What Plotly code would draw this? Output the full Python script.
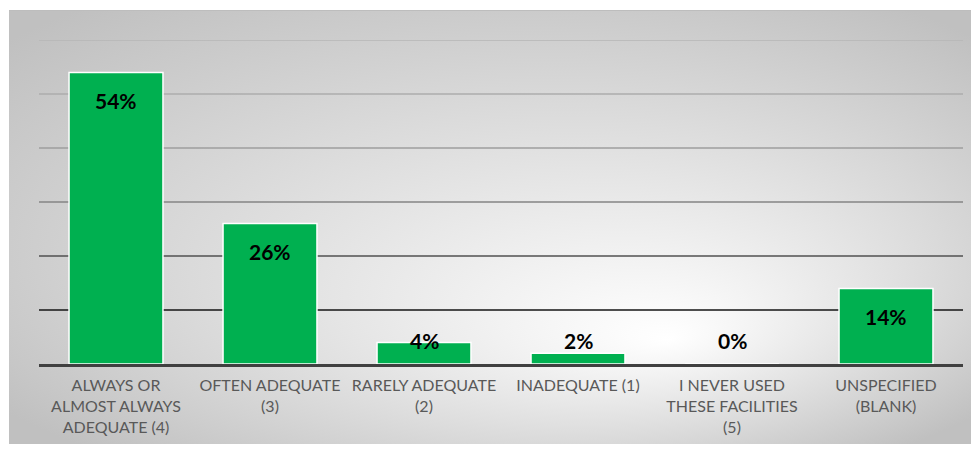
import base64
import plotly.graph_objects as go

categories = [
    "ALWAYS OR<br>ALMOST ALWAYS<br>ADEQUATE (4)",
    "OFTEN ADEQUATE<br>(3)",
    "RARELY ADEQUATE<br>(2)",
    "INADEQUATE (1)",
    "I NEVER USED<br>THESE FACILITIES<br>(5)",
    "UNSPECIFIED<br>(BLANK)",
]
values = [54, 26, 4, 2, 0, 14]
labels = ["54%", "26%", "4%", "2%", "0%", "14%"]
grid_vals = [10, 20, 30, 40, 50, 60]
grid_colors = ["#141414", "#505050", "#848484", "#9e9e9e", "#acacac", "#b6b6b6"]

# radial grey->white background like the excel chart area
svg = """<svg xmlns='http://www.w3.org/2000/svg' width='970' height='434' preserveAspectRatio='none'>
<defs><radialGradient id='g' cx='0.5' cy='0.5' r='0.66' fx='0.68' fy='0.76'>
<stop offset='0' stop-color='#ffffff'/><stop offset='1' stop-color='#c0c0c0'/>
</radialGradient></defs>
<rect x='0' y='0' width='970' height='434' fill='url(#g)'/>
<line x1='0' y1='0.5' x2='970' y2='0.5' stroke='#bdbdbd' stroke-width='1'/>
</svg>"""
bg_uri = "data:image/svg+xml;base64," + base64.b64encode(svg.encode()).decode()

fig = go.Figure()
fig.add_trace(go.Bar(
    x=categories,
    y=values,
    marker=dict(color="#00B050", line=dict(color="white", width=1.5)),
    width=0.61,
    hoverinfo="skip",
))

# gridlines, darker towards the bottom
for v, c in zip(grid_vals, grid_colors):
    fig.add_shape(type="line", xref="paper", x0=0, x1=1, yref="y", y0=v, y1=v,
                  line=dict(color=c, width=1.5), layer="below")

# data labels: inside top for tall bars, just above axis for short ones
for cat, v, lab in zip(categories, values, labels):
    if v >= 10:
        fig.add_annotation(x=cat, y=v, text=lab, showarrow=False, yanchor="middle", yshift=-28,
                           font=dict(family="Lato", size=21, color="black", weight="bold"))
    else:
        fig.add_annotation(x=cat, y=0, text=lab, showarrow=False, yanchor="middle", yshift=24,
                           font=dict(family="Lato", size=21, color="black", weight="bold"))

# page body has an 8px margin, so the figure is 8px smaller than the window
fig.update_layout(
    width=971,
    height=446,
    margin=dict(l=31, r=16, t=32, b=90),
    paper_bgcolor="white",
    plot_bgcolor="rgba(0,0,0,0)",
    showlegend=False,
    images=[dict(source=bg_uri, xref="paper", yref="paper",
                 x=(1 - 31) / 924, y=(356 - 2) / 324,
                 sizex=970 / 924, sizey=434 / 324,
                 sizing="stretch", xanchor="left", yanchor="top", layer="below")],
    xaxis=dict(
        showgrid=False,
        showline=True, linecolor="#404040", linewidth=3,
        ticks="",
        ticklabelstandoff=5,
        tickfont=dict(family="Lato", size=16, color="#595959"),
    ),
    yaxis=dict(
        range=[0, 60],
        showgrid=False,
        zeroline=False,
        showticklabels=False,
    ),
)

fig.write_html("out.html")
